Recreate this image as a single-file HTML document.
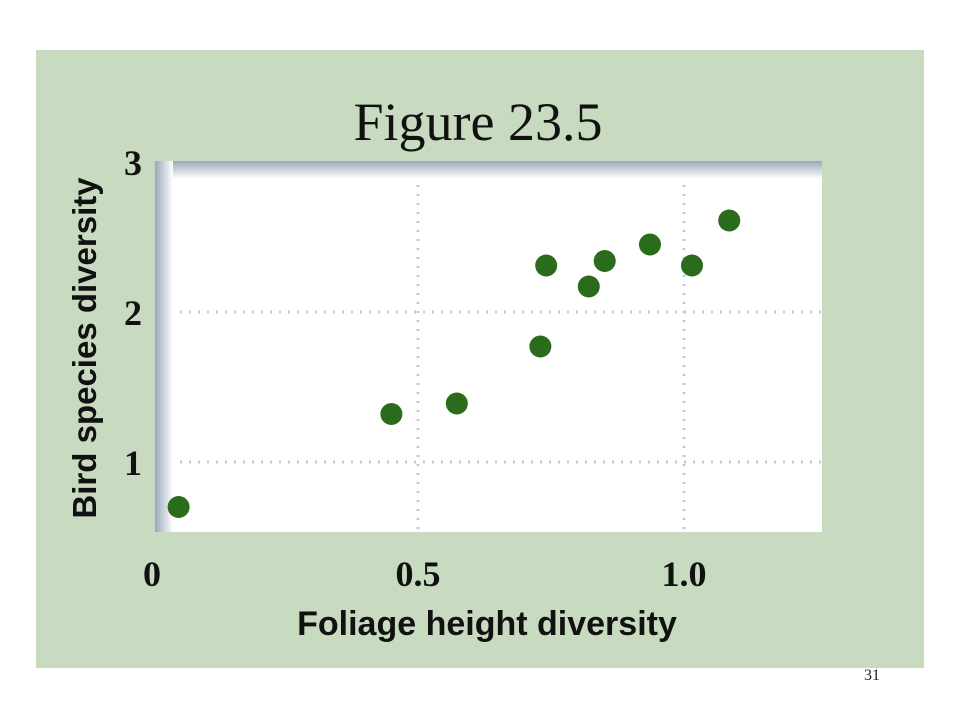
<!DOCTYPE html>
<html><head><meta charset="utf-8"><style>
body{margin:0;background:#fff;width:960px;height:720px;overflow:hidden;font-family:"Liberation Serif",serif}
</style></head><body>
<svg width="960" height="720" xmlns="http://www.w3.org/2000/svg">
<defs>
<linearGradient id="gl" x1="0" x2="1" y1="0" y2="0"><stop offset="0" stop-color="#9aa8bc"/><stop offset="1" stop-color="#fff"/></linearGradient>
<linearGradient id="gt" x1="0" x2="0" y1="0" y2="1"><stop offset="0" stop-color="#9aa8bc"/><stop offset="1" stop-color="#fff"/></linearGradient>
</defs>
<text x="872" y="680" font-size="16" text-anchor="middle" fill="#222">31</text>
<rect x="36" y="50" width="888" height="618" fill="#c8dbc0"/>
<text x="478" y="140" font-size="54" text-anchor="middle" fill="#111">Figure 23.5</text>
<rect x="155" y="161" width="667" height="371" fill="#fff"/>
<rect x="155" y="161" width="667" height="18" fill="url(#gt)"/>
<rect x="155" y="161" width="18" height="371" fill="url(#gl)"/>
<g id="grid"></g>
<g id="ticks" font-weight="bold" font-size="36" fill="#111"></g>
<text x="487" y="635" font-size="34" font-weight="bold" text-anchor="middle" font-family="Liberation Sans,sans-serif" fill="#111">Foliage height diversity</text>
<text transform="translate(96,348) rotate(-90)" font-size="33" font-weight="bold" text-anchor="middle" font-family="Liberation Sans,sans-serif" fill="#111">Bird species diversity</text>
<g id="pts"></g>
</svg>
<script>
const xs=[0.05,0.45,0.573,0.73,0.741,0.821,0.851,0.936,1.015,1.085];
const ys=[0.70,1.32,1.39,1.77,2.31,2.17,2.34,2.45,2.31,2.61];
const xTicks=[0,0.5,1.0];
const xTickLabels=["0","0.5","1.0"];
const yTicks=[1,2,3];
const yTickLabels=["1","2","3"];
const sx=v=>152+v*532, sy=v=>612-v*150;
const NS="http://www.w3.org/2000/svg";
const grid=document.getElementById('grid'),ticks=document.getElementById('ticks'),pts=document.getElementById('pts');
function mk(t,a,p){const e=document.createElementNS(NS,t);for(const k in a)e.setAttribute(k,a[k]);p.appendChild(e);return e;}
xTicks.forEach((v,i)=>{
  if(v>0){const l=mk('line',{x1:sx(v),x2:sx(v),y1:185,y2:532,stroke:'#b8cfe0','stroke-width':3,'stroke-dasharray':'2 7'},grid);
  
  }
  const t=mk('text',{x:sx(v),y:586,'text-anchor':'middle'},ticks);t.textContent=xTickLabels[i];
  
  
});
yTicks.forEach((v,i)=>{
  if(v<3){const l=mk('line',{x1:180,x2:822,y1:sy(v),y2:sy(v),stroke:'#b8cfe0','stroke-width':3,'stroke-dasharray':'2 7'},grid);
  
  }
  const t=mk('text',{x:133,y:sy(v)+13,'text-anchor':'middle'},ticks);t.textContent=yTickLabels[i];
  
  
});
xs.forEach((x,i)=>{
  const c=mk('circle',{cx:sx(x),cy:sy(ys[i]),r:11,fill:'#2b6b1c'},pts);
  
  
});
</script>
</body></html>
